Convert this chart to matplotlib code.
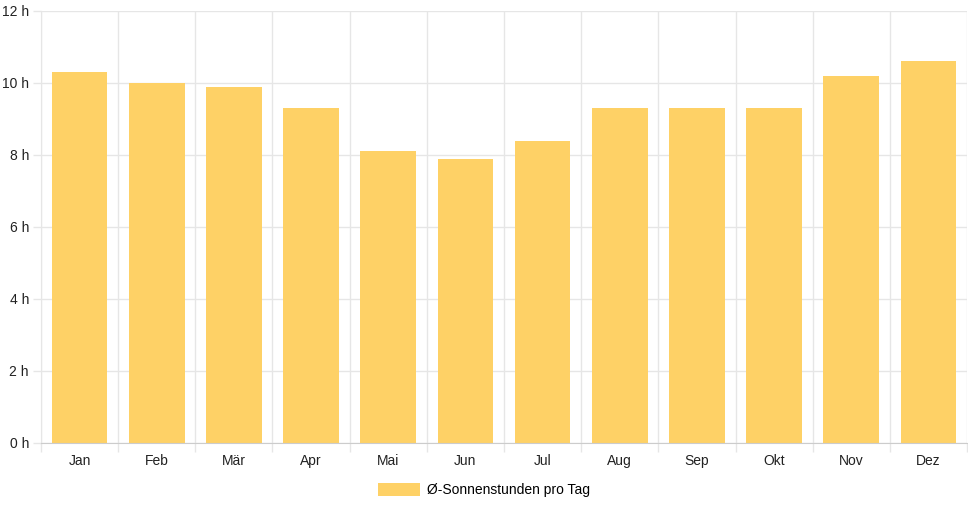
import numpy as np
import matplotlib.pyplot as plt
from matplotlib.ticker import FixedLocator, FuncFormatter

months = ['Jan', 'Feb', 'Mär', 'Apr', 'Mai', 'Jun', 'Jul', 'Aug', 'Sep', 'Okt', 'Nov', 'Dez']
sun_hours = [10.3, 10.0, 9.9, 9.3, 8.1, 7.9, 8.4, 9.3, 9.3, 9.3, 10.2, 10.6]
y_ticks = [0, 2, 4, 6, 8, 10, 12]
series_label = 'Ø-Sonnenstunden pro Tag'

plt.rcParams['font.family'] = ['Liberation Sans', 'DejaVu Sans']

W, H = 968, 508
fig = plt.figure(figsize=(W / 100, H / 100), dpi=100)
ax = fig.add_axes([41 / W, 1 - 443 / H, (967 - 41) / W, (443 - 11) / H])

x = np.arange(len(months))
bars = ax.bar(x, sun_hours, width=0.72, color='#fed166', label=series_label, zorder=2)

ax.set_xlim(-0.5, len(months) - 0.5)
ax.set_ylim(0, 12)

# tick sizes in points (dpi 100 -> 1 pt = 1.39 px)
grid_col = '#e6e6e6'
ax.set_xticks(x)
ax.set_xticklabels(months)
ax.xaxis.set_minor_locator(FixedLocator(np.arange(-0.5, len(months), 1)))
ax.tick_params(axis='x', which='major', length=0, pad=8, labelsize=10, colors='#222222')
ax.tick_params(axis='x', which='minor', length=6.5, color=grid_col, width=1)
ax.grid(axis='x', which='minor', color=grid_col, linewidth=1, zorder=0)

ax.set_yticks(y_ticks)
ax.yaxis.set_major_formatter(FuncFormatter(lambda v, p: '%d h' % v))
ax.tick_params(axis='y', length=5.8, width=1, pad=2.9, labelsize=10, colors='#222222')
ax.tick_params(axis='y', color=grid_col)
ax.grid(axis='y', color=grid_col, linewidth=1, zorder=0)

for side in ['top', 'right']:
    ax.spines[side].set_visible(False)
ax.spines['left'].set_color(grid_col)
ax.spines['bottom'].set_color('#cccccc')

fig.legend(handles=[bars], labels=[series_label], loc='center', bbox_to_anchor=(484 / W, 1 - 490 / H),
           frameon=False, fontsize=10, handlelength=3.0, handleheight=1.1, handletextpad=0.5)

fig.savefig('out.png', dpi=100)
